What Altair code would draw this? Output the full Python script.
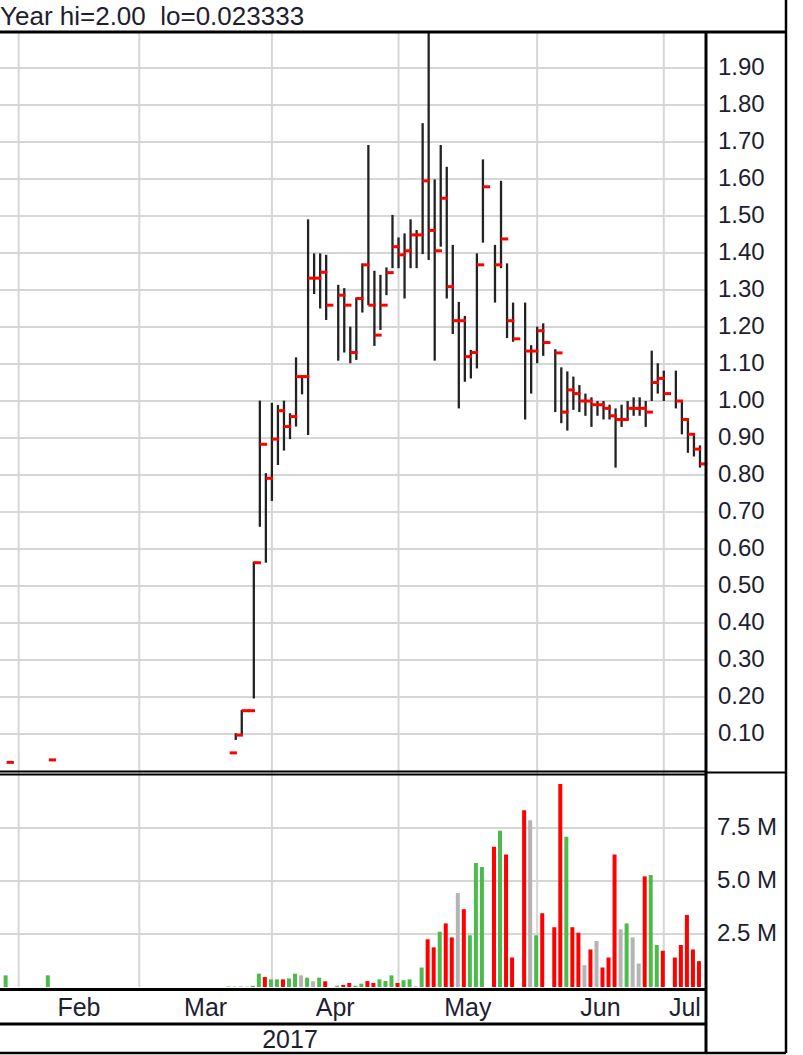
import altair as alt
import pandas as pd

# ---- daily bars: session slot, high, low, close, volume (millions) ----
slots = [-2, 5, 35, 36, 37, 38, 39, 40, 41, 42, 43, 44, 45, 46, 47, 48, 49, 50, 51,
         53, 54, 55, 56, 57, 58, 59, 60, 61, 62, 63, 64, 65, 66, 67, 68, 69, 70, 71,
         72, 73, 74, 75, 76, 77, 79, 80, 81, 82, 84, 85, 86, 87, 89, 90, 91, 92, 93,
         94, 95, 96, 97, 98, 99, 100, 101, 102, 103, 104, 105, 106, 107, 109, 110,
         111, 112, 113]
high = [0.0233, 0.030, 0.049, 0.102, 0.165, 0.163, 0.566, 1.001, 0.805, 0.995, 0.989,
        1.001, 0.967, 1.118, 1.070, 1.491, 1.399, 1.399, 1.395,
        1.314, 1.305, 1.201, 1.280, 1.372, 1.692, 1.352, 1.341, 1.361, 1.503, 1.442,
        1.453, 1.491, 1.462, 1.751, 2.000, 1.599, 1.692, 1.633,
        1.422, 1.268, 1.230, 1.138, 1.399, 1.653, 1.422, 1.595, 1.372, 1.266, 1.266,
        1.151, 1.201, 1.210, 1.140, 1.091, 1.080, 1.066, 1.043,
        1.020, 1.010, 1.000, 1.000, 0.990, 0.980, 0.990, 1.000, 1.010, 1.010, 1.000,
        1.136, 1.102, 1.082, 1.082, 1.000, 0.950, 0.910, 0.880]
low = [0.0233, 0.030, 0.049, 0.084, 0.097, 0.163, 0.196, 0.660, 0.563, 0.730, 0.827,
       0.866, 0.897, 0.931, 1.018, 0.908, 1.289, 1.250, 1.219,
       1.109, 1.131, 1.102, 1.111, 1.239, 1.259, 1.149, 1.192, 1.286, 1.359, 1.359,
       1.277, 1.359, 1.359, 1.397, 1.381, 1.109, 1.417, 1.277,
       1.181, 0.980, 1.052, 1.061, 1.088, 1.428, 1.266, 1.359, 1.170, 1.160, 0.950,
       1.020, 1.102, 1.122, 0.970, 0.940, 0.920, 0.976, 0.970,
       0.960, 0.930, 0.960, 0.950, 0.950, 0.820, 0.930, 0.950, 0.960, 0.960, 0.930,
       1.000, 1.020, 1.000, 0.980, 0.910, 0.860, 0.850, 0.820]
close = [0.0233, 0.030, 0.049, 0.097, 0.163, 0.163, 0.563, 0.883, 0.791, 0.897, 0.974,
         0.931, 0.958, 1.066, 1.066, 1.332, 1.332, 1.348, 1.259,
         1.286, 1.259, 1.131, 1.277, 1.368, 1.259, 1.178, 1.259, 1.347, 1.417, 1.395,
         1.406, 1.449, 1.449, 1.595, 1.461, 1.406, 1.548, 1.309,
         1.217, 1.217, 1.120, 1.131, 1.368, 1.579, 1.368, 1.438, 1.217, 1.168, 1.135,
         1.135, 1.190, 1.158, 1.130, 0.970, 1.030, 1.020, 1.000,
         1.000, 0.990, 0.990, 0.980, 0.960, 0.950, 0.950, 0.980, 0.980, 0.980, 0.970,
         1.050, 1.061, 1.020, 1.000, 0.950, 0.910, 0.870, 0.830]
volume_m = [0.55, 0.55, 0.02, 0.02, 0.02, 0.02, 0.06, 0.63, 0.47, 0.36, 0.36,
            0.36, 0.40, 0.63, 0.55, 0.44, 0.27, 0.44, 0.27,
            0.06, 0.10, 0.19, 0.06, 0.16, 0.28, 0.19, 0.36, 0.28, 0.55, 0.19,
            0.32, 0.36, 0.04, 0.92, 2.25, 1.87, 2.61, 3.00,
            2.34, 4.43, 3.67, 2.44, 5.85, 5.66, 6.61, 7.37, 6.25, 1.39, 8.34,
            7.86, 2.44, 3.48, 2.82, 9.57, 7.09, 2.82, 2.56,
            1.03, 1.77, 2.17, 0.92, 1.39, 6.25, 2.72, 3.00, 2.34, 1.11, 5.22,
            5.28, 1.98, 1.71, 1.39, 1.98, 3.40, 1.77, 1.22]

# ---- axes ----
price_ticks = [round(0.1 * i, 2) for i in range(1, 20)]
volume_ticks = [2.5, 5.0, 7.5]
month_names = ["Feb", "Mar", "Apr", "May", "Jun", "Jul"]
month_start_slots = [0, 20, 42, 63, 86, 107]
year_text = "2017"
header_text = "Year hi=2.00\u00a0 lo=0.023333"

# ---- layout (pixels) ----
W, H = 803, 1055
PLOT_R = 706          # right edge of the plotting panels
OUTER_R = 786         # right edge of the whole frame
HEADER_Y = 32
PRICE_TOP, PRICE_BOT = 31, 771
VOL_TOP, VOL_BOT = 774, 987
VOL_AXIS_Y = 989.5
MONTH_ROW_Y = 1024
BOTTOM_Y = 1053
X_DOMAIN = [-3.1, 114.0]

FONT = "Liberation Sans"
TEXT_COLOR = "#1e1e30"
GRID = "#d6d6d6"

# ---- frames ----
bars = pd.DataFrame({"slot": slots, "high": high, "low": low,
                     "close": close, "vol": volume_m})
prev = bars["close"].shift(1)
bars["dir"] = "up"
bars.loc[bars["close"] < prev, "dir"] = "down"
bars.loc[bars["close"] == prev, "dir"] = "flat"

ends = month_start_slots[1:] + [X_DOMAIN[1]]
months = pd.DataFrame({
    "name": month_names,
    "start": month_start_slots,
    "mid": [(a + b) / 2 for a, b in zip(month_start_slots, ends)],
})
pticks = pd.DataFrame({"v": price_ticks})
vticks = pd.DataFrame({"v": volume_ticks})

xs = alt.Scale(domain=X_DOMAIN, range=[0, PLOT_R], nice=False, zero=False, padding=0)
ps = alt.Scale(domain=[0, 2.0], range=[PRICE_BOT, PRICE_TOP], nice=False,
               zero=False, padding=0)
vs = alt.Scale(domain=[0, (VOL_BOT - VOL_TOP) / 21.2], range=[VOL_BOT, VOL_TOP],
               nice=False, padding=0)

X = lambda f: alt.X(f, scale=xs, axis=None)

layers = []

# horizontal grid, price panel
layers.append(alt.Chart(pticks).mark_rule(color=GRID, strokeWidth=2).encode(
    y=alt.Y("v:Q", scale=ps, axis=None), x=alt.value(0), x2=alt.value(PLOT_R)))
# horizontal grid, volume panel
layers.append(alt.Chart(vticks).mark_rule(color=GRID, strokeWidth=2).encode(
    y=alt.Y("v:Q", scale=vs, axis=None), x=alt.value(0), x2=alt.value(PLOT_R)))
# vertical month grid through both panels
layers.append(alt.Chart(months).mark_rule(color=GRID, strokeWidth=2).encode(
    x=X("start:Q"), y=alt.value(HEADER_Y), y2=alt.value(VOL_BOT)))

# volume bars
layers.append(alt.Chart(bars).mark_bar(width=4, xOffset=-1).encode(
    x=X("slot:Q"),
    y=alt.Y("vol:Q", scale=vs, axis=None),
    color=alt.Color("dir:N", legend=None,
                    scale=alt.Scale(domain=["up", "down", "flat"],
                                    range=["#4cbb4c", "#ff0000", "#b4b4b4"]))))

# high-low bars
layers.append(alt.Chart(bars).mark_rule(color="#222222", strokeWidth=2.3).encode(
    x=X("slot:Q"),
    y=alt.Y("low:Q", scale=ps, axis=None), y2="high:Q"))

# close ticks
layers.append(alt.Chart(bars).transform_calculate(tick_end="datum.slot + 1.2")
              .mark_rule(color="#ff0000", strokeWidth=3).encode(
    x=X("slot:Q"), x2="tick_end:Q",
    y=alt.Y("close:Q", scale=ps, axis=None)))

# right-hand labels
layers.append(alt.Chart(pticks).mark_text(
    align="left", baseline="middle", font=FONT, fontSize=24, color=TEXT_COLOR).encode(
    y=alt.Y("v:Q", scale=ps, axis=None), x=alt.value(718),
    text=alt.Text("v:Q", format=".2f")))
layers.append(alt.Chart(vticks).transform_calculate(
    lab="format(datum.v, '.1f') + ' M'").mark_text(
    align="left", baseline="middle", font=FONT, fontSize=24, color=TEXT_COLOR).encode(
    y=alt.Y("v:Q", scale=vs, axis=None), x=alt.value(717), text="lab:N"))

# month and year labels
layers.append(alt.Chart(months).mark_text(
    align="center", baseline="middle", font=FONT, fontSize=25, color=TEXT_COLOR).encode(
    x=X("mid:Q"), y=alt.value(1008), text="name:N"))
layers.append(alt.Chart(pd.DataFrame({"t": [year_text]})).mark_text(
    align="center", baseline="middle", font=FONT, fontSize=25, color=TEXT_COLOR).encode(
    x=alt.value(290), y=alt.value(1040), text="t:N"))

# header
layers.append(alt.Chart(pd.DataFrame({"t": [header_text]})).mark_text(
    align="left", baseline="middle", font=FONT, fontSize=26, color=TEXT_COLOR).encode(
    x=alt.value(0), y=alt.value(17), text="t:N"))


def seg(x1, x2, y1, y2, w):
    return alt.Chart(pd.DataFrame({"k": [0]})).mark_rule(
        color="#000000", strokeWidth=w).encode(
        x=alt.value(x1), x2=alt.value(x2), y=alt.value(y1), y2=alt.value(y2))


# panel borders
layers += [
    seg(0, OUTER_R, HEADER_Y, HEADER_Y, 3),
    seg(OUTER_R, OUTER_R, 0, BOTTOM_Y, 2.5),
    seg(PLOT_R, PLOT_R, HEADER_Y, BOTTOM_Y, 3),
    seg(0, PLOT_R, PRICE_BOT + 0.5, PRICE_BOT + 0.5, 2),
    seg(0, PLOT_R, VOL_TOP + 0.5, VOL_TOP + 0.5, 2),
    seg(PLOT_R, OUTER_R, 772.5, 772.5, 2),
    seg(0, PLOT_R, VOL_AXIS_Y, VOL_AXIS_Y, 3),
    seg(0, PLOT_R, MONTH_ROW_Y, MONTH_ROW_Y, 3),
    seg(0, OUTER_R, BOTTOM_Y, BOTTOM_Y, 2.5),
]

chart = alt.layer(*layers).resolve_scale(y="independent").properties(
    width=W, height=H, padding=0, autosize=alt.AutoSizeParams(type="none"),
    background="white",
).configure_view(stroke=None)

chart.save("out.html", embed_options={"renderer": "svg", "actions": False})
